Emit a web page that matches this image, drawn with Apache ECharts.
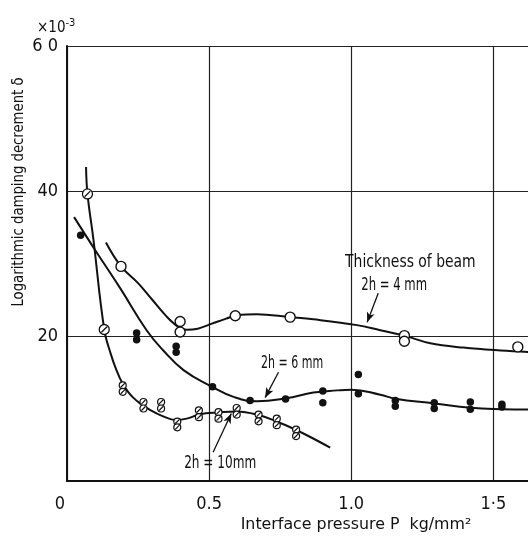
<!DOCTYPE html>
<html>
<head>
<meta charset="utf-8">
<script src="https://cdn.jsdelivr.net/npm/echarts@6/dist/echarts.min.js"></script>
<style>
  html, body { margin: 0; padding: 0; background: #fff; }
  #chart { width: 528px; height: 536px; }
</style>
</head>
<body>
<div id="chart"></div>
<script>
// Measured points: [pressure kg/mm², damping decrement ×10^-3]
const beam4Points = [[0.19,29.6],[0.398,22.0],[0.398,20.55],[0.592,22.8],[0.785,22.6],[1.187,20.05],[1.187,19.27],[1.586,18.5]];
const beam6Points = [[0.048,33.9],[0.245,20.4],[0.245,19.5],[0.384,18.6],[0.384,17.75],[0.512,13.0],[0.644,11.1],[0.769,11.3],
  [0.900,12.4],[0.900,10.8],[1.025,14.7],[1.025,12.05],[1.155,11.1],[1.155,10.3],[1.292,10.8],[1.292,10.0],
  [1.419,10.9],[1.419,9.9],[1.53,10.6],[1.53,10.2]];
const beam10Single = [[0.072,39.6],[0.131,20.9]];
const beam10Paired = [[0.196,13.2],[0.196,12.3],[0.269,10.9],[0.269,10.0],[0.331,10.9],[0.331,10.0],[0.388,8.2],[0.388,7.4],
  [0.464,9.75],[0.464,8.8],[0.533,9.5],[0.533,8.6],[0.597,10.07],[0.597,9.16],[0.674,9.16],[0.674,8.23],
  [0.738,8.6],[0.738,7.7],[0.806,7.1],[0.806,6.2]];

// Faired curves through each set of measurements
const beam4Curve = [[0.137,32.9],[0.19,29.6],[0.25,27.3],[0.30,25.0],[0.35,22.7],[0.39,21.3],[0.42,20.85],[0.46,21.0],
  [0.51,21.7],[0.56,22.4],[0.6,22.85],[0.668,23.0],[0.785,22.6],[0.867,22.3],[1.02,21.5],[1.102,20.8],[1.187,20.05],
  [1.278,19.0],[1.395,18.4],[1.525,18.0],[1.625,17.8]];
const beam6Curve = [[0.025,36.4],[0.1,31.8],[0.187,26.6],[0.28,20.8],[0.339,18.0],[0.41,15.3],[0.51,13.0],[0.586,11.6],
  [0.668,11.0],[0.77,11.4],[0.867,12.2],[0.95,12.5],[1.0,12.6],[1.102,11.9],[1.155,11.35],[1.292,10.7],[1.42,10.1],[1.53,9.9],[1.625,9.85]];
const beam10Curve = [[0.067,43.3],[0.072,39.6],[0.093,33.3],[0.131,20.9],[0.155,17.4],[0.175,15.2],[0.196,13.4],[0.215,12.3],
  [0.233,11.5],[0.26,10.6],[0.292,9.8],[0.33,9.05],[0.386,8.4],[0.421,8.6],[0.468,9.2],[0.533,9.45],[0.597,9.6],
  [0.674,9.1],[0.738,8.2],[0.808,7.0],[0.856,6.07],[0.926,4.6]];

// Tick labels
const xTickValues = [0, 0.5, 1.0, 1.5];
const xTickLabels = ['0', '0.5', '1.0', '1·5'];
const yTickValues = [20, 40, 60];
const yTickLabels = ['20', '40', '6 0'];

// Annotation texts
const labelThickness = 'Thickness of beam';
const label4 = '2h = 4 mm';
const label6 = '2h = 6 mm';
const label10 = '2h = 10mm';
const yTitle = 'Logarithmic damping decrement δ';
const xTitle = 'Interface pressure P  kg/mm²';

const FONT = "'DejaVu Sans Condensed', 'Liberation Sans Narrow', sans-serif";
const INK = '#111';

const hatchSymbol = 'path://M0,5A5,5,0,1,1,10,5A5,5,0,1,1,0,5ZM2.2,7.8L7.8,2.2';

const chart = echarts.init(document.getElementById('chart'), null, { renderer: 'canvas' });

function arrowLine(from, to) {
  return [
    { coord: from, symbol: 'none' },
    { coord: to, symbol: 'arrow', symbolSize: [6, 10] }
  ];
}

function leader(from, to) {
  return {
    silent: true, symbol: ['none', 'arrow'], animation: false,
    lineStyle: { color: INK, width: 1.3, type: 'solid' }, label: { show: false },
    data: [arrowLine(from, to)]
  };
}

const option = {
  animation: false,
  backgroundColor: '#fff',
  grid: { left: 67, top: 46, width: 469, height: 435, containLabel: false, outerBoundsMode: 'none' },
  xAxis: {
    type: 'value', min: 0, max: 1.65, interval: 0.5,
    axisLine: { show: true, onZero: false, lineStyle: { color: INK, width: 2 } },
    axisTick: { show: false },
    splitLine: { show: true, lineStyle: { color: '#222', width: 1.2 } },
    axisLabel: {
      margin: 14, color: INK, fontFamily: FONT, fontSize: 18,
      formatter: v => {
        const i = xTickValues.findIndex(t => Math.abs(t - v) < 1e-6);
        if (i < 0) return '';
        return i === 0 ? '{o|' + xTickLabels[i] + '}' : xTickLabels[i];
      },
      rich: { o: { padding: [0, 14, 0, 0], fontFamily: FONT, fontSize: 18, color: INK } }
    }
  },
  yAxis: {
    type: 'value', min: 0, max: 60, interval: 20,
    axisLine: { show: true, lineStyle: { color: INK, width: 2 } },
    axisTick: { show: false },
    splitLine: { show: true, lineStyle: { color: '#222', width: 1.2 } },
    axisLabel: {
      margin: 9, color: INK, fontFamily: FONT, fontSize: 18,
      formatter: v => {
        const i = yTickValues.findIndex(t => Math.abs(t - v) < 1e-6);
        return i < 0 ? '' : yTickLabels[i];
      }
    }
  },
  series: [
    {
      name: '2h=4mm curve', type: 'line', data: beam4Curve, smooth: 0.4, symbol: 'none',
      lineStyle: { color: INK, width: 2 }, z: 3,
      markLine: leader([1.095, 25.9], [1.056, 21.9])
    },
    {
      name: '2h=6mm curve', type: 'line', data: beam6Curve, smooth: 0.45, symbol: 'none',
      lineStyle: { color: INK, width: 2 }, z: 3,
      markLine: leader([0.744, 15.0], [0.697, 11.5])
    },
    {
      name: '2h=10mm curve', type: 'line', data: beam10Curve, smooth: 0.4, symbol: 'none',
      lineStyle: { color: INK, width: 2 }, z: 3,
      markLine: leader([0.514, 3.96], [0.578, 9.3])
    },
    {
      name: '2h=4mm', type: 'scatter', data: beam4Points, symbol: 'circle', symbolSize: 10,
      itemStyle: { color: '#fff', borderColor: INK, borderWidth: 1.4, opacity: 1 }, z: 5
    },
    {
      name: '2h=6mm', type: 'scatter', data: beam6Points, symbol: 'circle', symbolSize: 7.5,
      itemStyle: { color: INK, opacity: 1 }, z: 5
    },
    {
      name: '2h=10mm', type: 'scatter', data: beam10Single, symbol: hatchSymbol, symbolSize: 10,
      symbolKeepAspect: true,
      itemStyle: { color: '#fff', borderColor: INK, borderWidth: 1.3, opacity: 1 }, z: 5
    },
    {
      name: '2h=10mm pairs', type: 'scatter', data: beam10Paired, symbol: hatchSymbol, symbolSize: 7,
      symbolKeepAspect: true,
      itemStyle: { color: '#fff', borderColor: INK, borderWidth: 1.2, opacity: 1 }, z: 5
    }
  ]
};

chart.setOption(option);

function px(pt) { return chart.convertToPixel({ gridIndex: 0 }, pt); }

function textAt(pt, text, size, sx) {
  const p = px(pt);
  return {
    type: 'text', x: p[0], y: p[1], z: 10, scaleX: sx,
    style: { text: text, fill: INK, font: size + 'px ' + FONT, align: 'center', verticalAlign: 'middle' }
  };
}

chart.setOption({
  graphic: [
    textAt([1.208, 30.2], labelThickness, 18, 0.86),
    textAt([1.151, 27.0], label4, 18, 0.72),
    textAt([0.792, 16.2], label6, 17, 0.72),
    textAt([0.539, 2.4], label10, 17, 0.79),
    {
      type: 'text', z: 10, x: 37, y: 28,
      style: {
        text: '{a|×10}{b|-3}', fill: INK, align: 'left', verticalAlign: 'middle',
        rich: { a: { font: '15px ' + FONT, fill: INK }, b: { font: '11px ' + FONT, fill: INK, padding: [0, 0, 10, 0] } }
      }
    },
    {
      type: 'text', z: 10, x: 19, y: 192, rotation: Math.PI / 2, scaleX: 0.92,
      style: { text: yTitle, fill: INK, font: '16px ' + FONT, align: 'center', verticalAlign: 'middle' }
    },
    {
      type: 'text', z: 10, x: 356, y: 525, scaleX: 1.1,
      style: { text: xTitle, fill: INK, font: '16px ' + FONT, align: 'center', verticalAlign: 'middle' }
    }
  ]
});
</script>
</body>
</html>
